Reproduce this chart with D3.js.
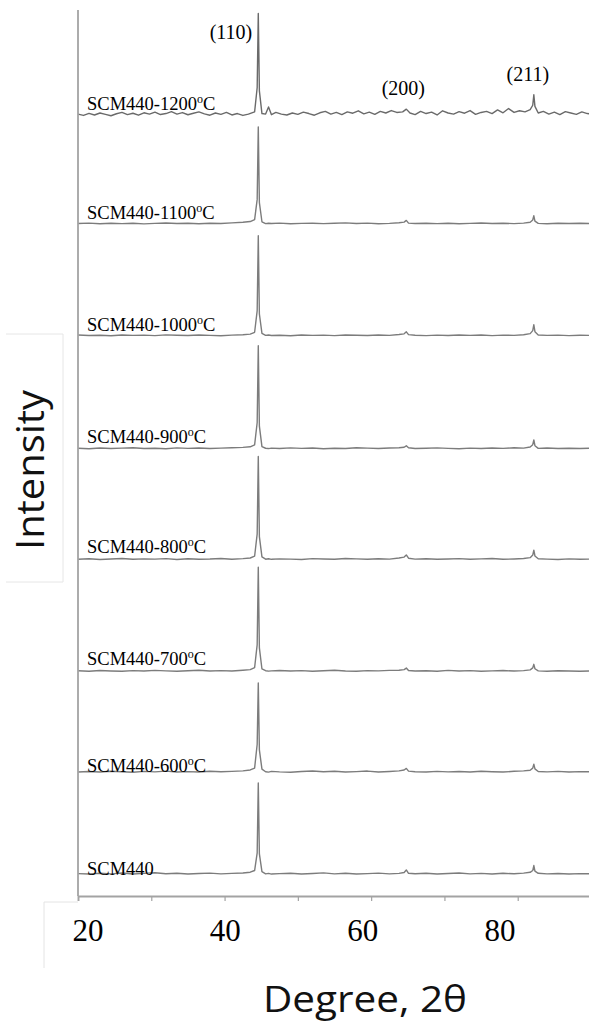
<!DOCTYPE html>
<html>
<head>
<meta charset="utf-8">
<script src="https://cdn.jsdelivr.net/npm/d3@7"></script>
<style>
  html, body { margin: 0; padding: 0; background: #ffffff; }
  svg { display: block; }
</style>
</head>
<body>
<script>
// XRD patterns of SCM440 steel, as received and after heat treatment.
// 2θ grid (degrees) shared by the patterns up to 1100 °C.
const twoTheta = [
  20, 21.5, 23, 24.5, 26, 27.5, 29, 30.5, 32, 33.5,
  35, 36.5, 38, 39.5, 41, 42.5, 43.5, 44.1, 44.45, 44.6,
  44.75, 45.1, 45.6, 46.0, 46.4, 47.5, 49, 50.5, 52, 53.5,
  55, 56.5, 58, 59.5, 61, 62.5, 63.8, 64.5, 64.8, 65.1,
  66, 67.5, 69, 70.5, 72, 73.5, 75, 76.5, 78, 79.5,
  80.8, 81.7, 82.05, 82.2, 82.35, 82.8, 84, 85.5, 87, 88.5,
  90
];
// Finer 2θ grid of the 1200 °C scan.
const twoTheta1200 = [
  20, 20.75, 21.5, 22.25, 23, 23.75, 24.5, 25.25, 26, 26.75,
  27.5, 28.25, 29, 29.75, 30.5, 31.25, 32, 32.75, 33.5, 34.25,
  35, 35.75, 36.5, 37.25, 38, 38.75, 39.5, 40.25, 41, 41.75,
  42.5, 43.25,
  44.1, 44.45, 44.6, 44.75, 45.1,
  45.6, 46.0, 46.4,
  47, 47.75, 48.5, 49.25, 50, 50.75, 51.5, 52.25, 53, 53.75,
  54.5, 55.25, 56, 56.75, 57.5, 58.25, 59, 59.75, 60.5, 61.25,
  62, 62.75, 63.5,
  64.3, 64.8, 65.3,
  66, 66.75, 67.5, 68.25, 69, 69.75, 70.5, 71.25, 72, 72.75,
  73.5, 74.25, 75, 75.75, 76.5, 77.25, 78, 78.75, 79.5, 80.25,
  81,
  81.7, 82.05, 82.2, 82.35, 82.8,
  83.5, 84.25, 85, 85.75, 86.5, 87.25, 88, 88.75, 89.5, 90
];

// Sample names and treatment temperatures (°C); the first sample is untreated.
const sampleNames = ["SCM440", "SCM440-600", "SCM440-700", "SCM440-800",
                     "SCM440-900", "SCM440-1000", "SCM440-1100", "SCM440-1200"];
const sampleTemps = [null, 600, 700, 800, 900, 1000, 1100, 1200];

// Vertical offset of each pattern in the stack (counts).
const stackOffsets = [190, 1110, 2020, 3030, 4030, 5050, 6060, 7030];

// Measured intensities (counts above each pattern's own baseline).
const intensity0 = [12, 8, 15, 10, 18, 9, 14, 20, 11, 16, 9, 13, 17, 10, 14, 18, 25, 40, 200, 830,
  190, 30, 10, 14, 8, 12, 16, 9, 13, 19, 10, 15, 8, 12, 17, 10, 14, 22, 45, 15,
  11, 16, 9, 13, 18, 10, 14, 8, 15, 11, 17, 24, 40, 85, 35, 15, 10, 13, 9, 12, 10];
const intensity600 = [10, 14, 9, 16, 12, 8, 15, 11, 18, 10, 13, 9, 17, 12, 15, 20, 28, 45, 260, 813,
  210, 35, 12, 9, 15, 11, 8, 14, 19, 12, 16, 10, 13, 18, 9, 14, 20, 28, 42, 18,
  12, 9, 15, 11, 14, 10, 17, 12, 9, 16, 20, 26, 45, 80, 38, 14, 11, 15, 9, 13, 11];
const intensity700 = [14, 10, 16, 12, 9, 15, 11, 17, 13, 10, 14, 18, 11, 15, 12, 19, 24, 42, 250, 948,
  220, 30, 14, 10, 13, 16, 11, 15, 9, 14, 18, 12, 10, 15, 13, 17, 18, 24, 38, 16,
  11, 14, 10, 17, 12, 15, 9, 13, 16, 11, 15, 22, 40, 72, 32, 13, 10, 14, 12, 9, 13];
const intensity800 = [11, 15, 9, 13, 17, 10, 14, 12, 16, 9, 15, 11, 13, 18, 10, 16, 22, 38, 240, 939,
  215, 32, 11, 15, 10, 14, 12, 9, 16, 13, 11, 17, 14, 10, 15, 12, 22, 30, 50, 20,
  12, 15, 10, 13, 16, 11, 14, 18, 10, 13, 17, 25, 48, 92, 40, 15, 12, 9, 14, 11, 12];
const intensity900 = [13, 9, 15, 11, 14, 18, 10, 13, 9, 16, 12, 15, 10, 14, 17, 21, 26, 44, 245, 939,
  212, 28, 13, 10, 14, 11, 16, 12, 15, 9, 13, 11, 17, 14, 10, 15, 18, 22, 35, 17,
  10, 13, 16, 12, 9, 14, 11, 15, 12, 17, 14, 24, 45, 88, 36, 12, 15, 10, 13, 11, 14];
const intensity1000 = [15, 11, 13, 9, 16, 12, 14, 10, 17, 13, 11, 15, 12, 9, 14, 18, 23, 40, 235, 912,
  205, 30, 12, 15, 11, 13, 9, 16, 12, 14, 10, 15, 13, 11, 16, 12, 20, 26, 44, 19,
  13, 10, 14, 11, 15, 12, 16, 10, 14, 12, 18, 28, 55, 108, 45, 16, 12, 14, 10, 13, 12];
const intensity1100 = [12, 16, 10, 14, 11, 15, 9, 13, 17, 12, 14, 10, 15, 12, 18, 24, 30, 48, 230, 885,
  200, 28, 11, 14, 12, 16, 10, 13, 15, 11, 14, 18, 12, 16, 10, 13, 19, 25, 40, 16,
  12, 15, 11, 14, 10, 13, 17, 12, 15, 11, 16, 24, 44, 82, 34, 13, 10, 14, 12, 15, 11];
const intensity1200 = [
  30, 18, 36, 22, 40, 28, 15, 33, 45, 25, 38, 20, 42, 30, 48, 26, 35, 52, 30, 44,
  24, 38, 50, 32, 20, 40, 28, 46, 22, 35, 18, 30,
  50, 270, 939, 240, 35,
  30, 95, 25,
  45, 30, 22, 40, 28, 48, 35, 20, 42, 55, 30, 45, 25, 50, 38, 60, 32, 48, 28, 55,
  40, 62, 45,
  50, 75, 40,
  25, 55, 35, 48, 22, 60, 40, 30, 52, 38, 62, 28, 45, 55, 35, 68, 42, 80, 45, 60,
  50,
  70, 110, 205, 100, 40,
  55, 30, 48, 25, 52, 40, 28, 50, 35, 30
];

const intensities = [intensity0, intensity600, intensity700, intensity800,
                     intensity900, intensity1000, intensity1100, intensity1200];
const grids = [twoTheta, twoTheta, twoTheta, twoTheta,
               twoTheta, twoTheta, twoTheta, twoTheta1200];

// Reflection indices and their 2θ positions.
const peakLabels = ["(110)", "(200)", "(211)"];
const peakAngles = [44.6, 64.8, 82.2];

// Axis ticks.
const xTickValues = [20, 30, 40, 50, 60, 70, 80, 90];
const xTickLabels = [20, 40, 60, 80];

// ---------------------------------------------------------------
const W = 589, H = 1023;
const plot = { left: 78, top: 10, bottom: 896 };

const svg = d3.select("body").append("svg")
  .attr("width", W).attr("height", H)
  .style("background", "#ffffff");

const x = d3.scaleLinear().domain([20, 90]).range([plot.left, 591]);
const y = d3.scaleLinear().domain([0, 8000]).range([plot.bottom, plot.top]);
// tick numbers sit in their own label strip under the axis
const xLabel = d3.scaleLinear().domain([20, 80]).range([88, 500]);

const serif = "'Liberation Serif', 'Times New Roman', serif";
const sans = "'Open Sans', 'Noto Sans', sans-serif";
const axisColor = "#a3a3a3";

// Stacked patterns
const line = d3.line()
  .x(d => x(d[0]))
  .y(d => y(d[1]))
  .curve(d3.curveLinear);

intensities.forEach((vals, i) => {
  const pts = grids[i].map((t, k) => [t, stackOffsets[i] + vals[k]]);
  svg.append("path")
    .datum(pts)
    .attr("d", line)
    .attr("fill", "none")
    .attr("stroke", i === 7 ? "#6a6a6a" : "#7c7c7c")
    .attr("stroke-width", 1.4)
    .attr("stroke-linejoin", "round");
});

// Left axis line
svg.append("line")
  .attr("x1", plot.left).attr("x2", plot.left)
  .attr("y1", plot.top).attr("y2", plot.bottom)
  .attr("stroke", axisColor).attr("stroke-width", 1.8);

// Bottom axis with tick marks
const xAxis = d3.axisBottom(x)
  .tickValues(xTickValues)
  .tickSize(5)
  .tickFormat("");
const gx = svg.append("g")
  .attr("transform", `translate(0,${plot.bottom})`)
  .call(xAxis);
gx.select(".domain").attr("stroke", axisColor).attr("stroke-width", 1.8);
gx.selectAll(".tick line").attr("stroke", axisColor).attr("stroke-width", 1.2);

// Label strip for the degree numbers
svg.append("path")
  .attr("d", "M78,902 H44 V968")
  .attr("fill", "none")
  .attr("stroke", "#e4e4e4")
  .attr("stroke-width", 1);

svg.append("g").selectAll("text")
  .data(xTickLabels)
  .join("text")
  .attr("x", d => xLabel(d))
  .attr("y", 941)
  .attr("text-anchor", "middle")
  .attr("font-family", serif)
  .attr("font-size", 31)
  .attr("fill", "#000")
  .text(d => d);

// Axis titles
svg.append("text")
  .attr("x", 263).attr("y", 1012)
  .attr("font-family", sans)
  .attr("font-size", 37)
  .attr("textLength", 204)
  .attr("lengthAdjust", "spacingAndGlyphs")
  .attr("fill", "#111")
  .text("Degree, 2θ");

svg.append("path")
  .attr("d", "M6,334 H63 V582 H6")
  .attr("fill", "none")
  .attr("stroke", "#e6e6e6")
  .attr("stroke-width", 1);

svg.append("text")
  .attr("transform", "translate(44,550) rotate(-90)")
  .attr("font-family", sans)
  .attr("font-size", 38)
  .attr("textLength", 160)
  .attr("lengthAdjust", "spacingAndGlyphs")
  .attr("fill", "#111")
  .text("Intensity");

// Sample labels, sitting just above each pattern's baseline
const labelLift = [0, 1, 7, 7, 7, 6, 6, 7];
sampleNames.forEach((name, i) => {
  const t = svg.append("text")
    .attr("x", 87)
    .attr("y", y(stackOffsets[i]) - labelLift[i])
    .attr("font-family", serif)
    .attr("font-size", 18.5)
    .attr("fill", "#000");
  if (sampleTemps[i] === null) {
    t.text(name);
  } else {
    t.append("tspan").text(name);
    t.append("tspan").attr("font-size", 12).attr("dy", -7).text("o");
    t.append("tspan").attr("dy", 7).text("C");
  }
});

// Reflection labels over the top pattern
const topIdx = intensities.length - 1;
const peakIdx = peakAngles.map(a => grids[topIdx].indexOf(a));
peakLabels.forEach((lbl, j) => {
  const peakTop = stackOffsets[topIdx] + intensities[topIdx][peakIdx[j]];
  const t = svg.append("text")
    .attr("font-family", serif)
    .attr("font-size", 20)
    .attr("fill", "#000")
    .text(lbl);
  if (j === 0) {
    t.attr("x", x(peakAngles[j]) - 6)
     .attr("y", y(stackOffsets[topIdx] + intensities[topIdx][peakIdx[j]] * 0.75))
     .attr("text-anchor", "end");
  } else {
    t.attr("x", x(peakAngles[j]) - (j === 1 ? 3 : 6))
     .attr("y", y(peakTop) - 14)
     .attr("text-anchor", "middle");
  }
});
</script>
</body>
</html>
